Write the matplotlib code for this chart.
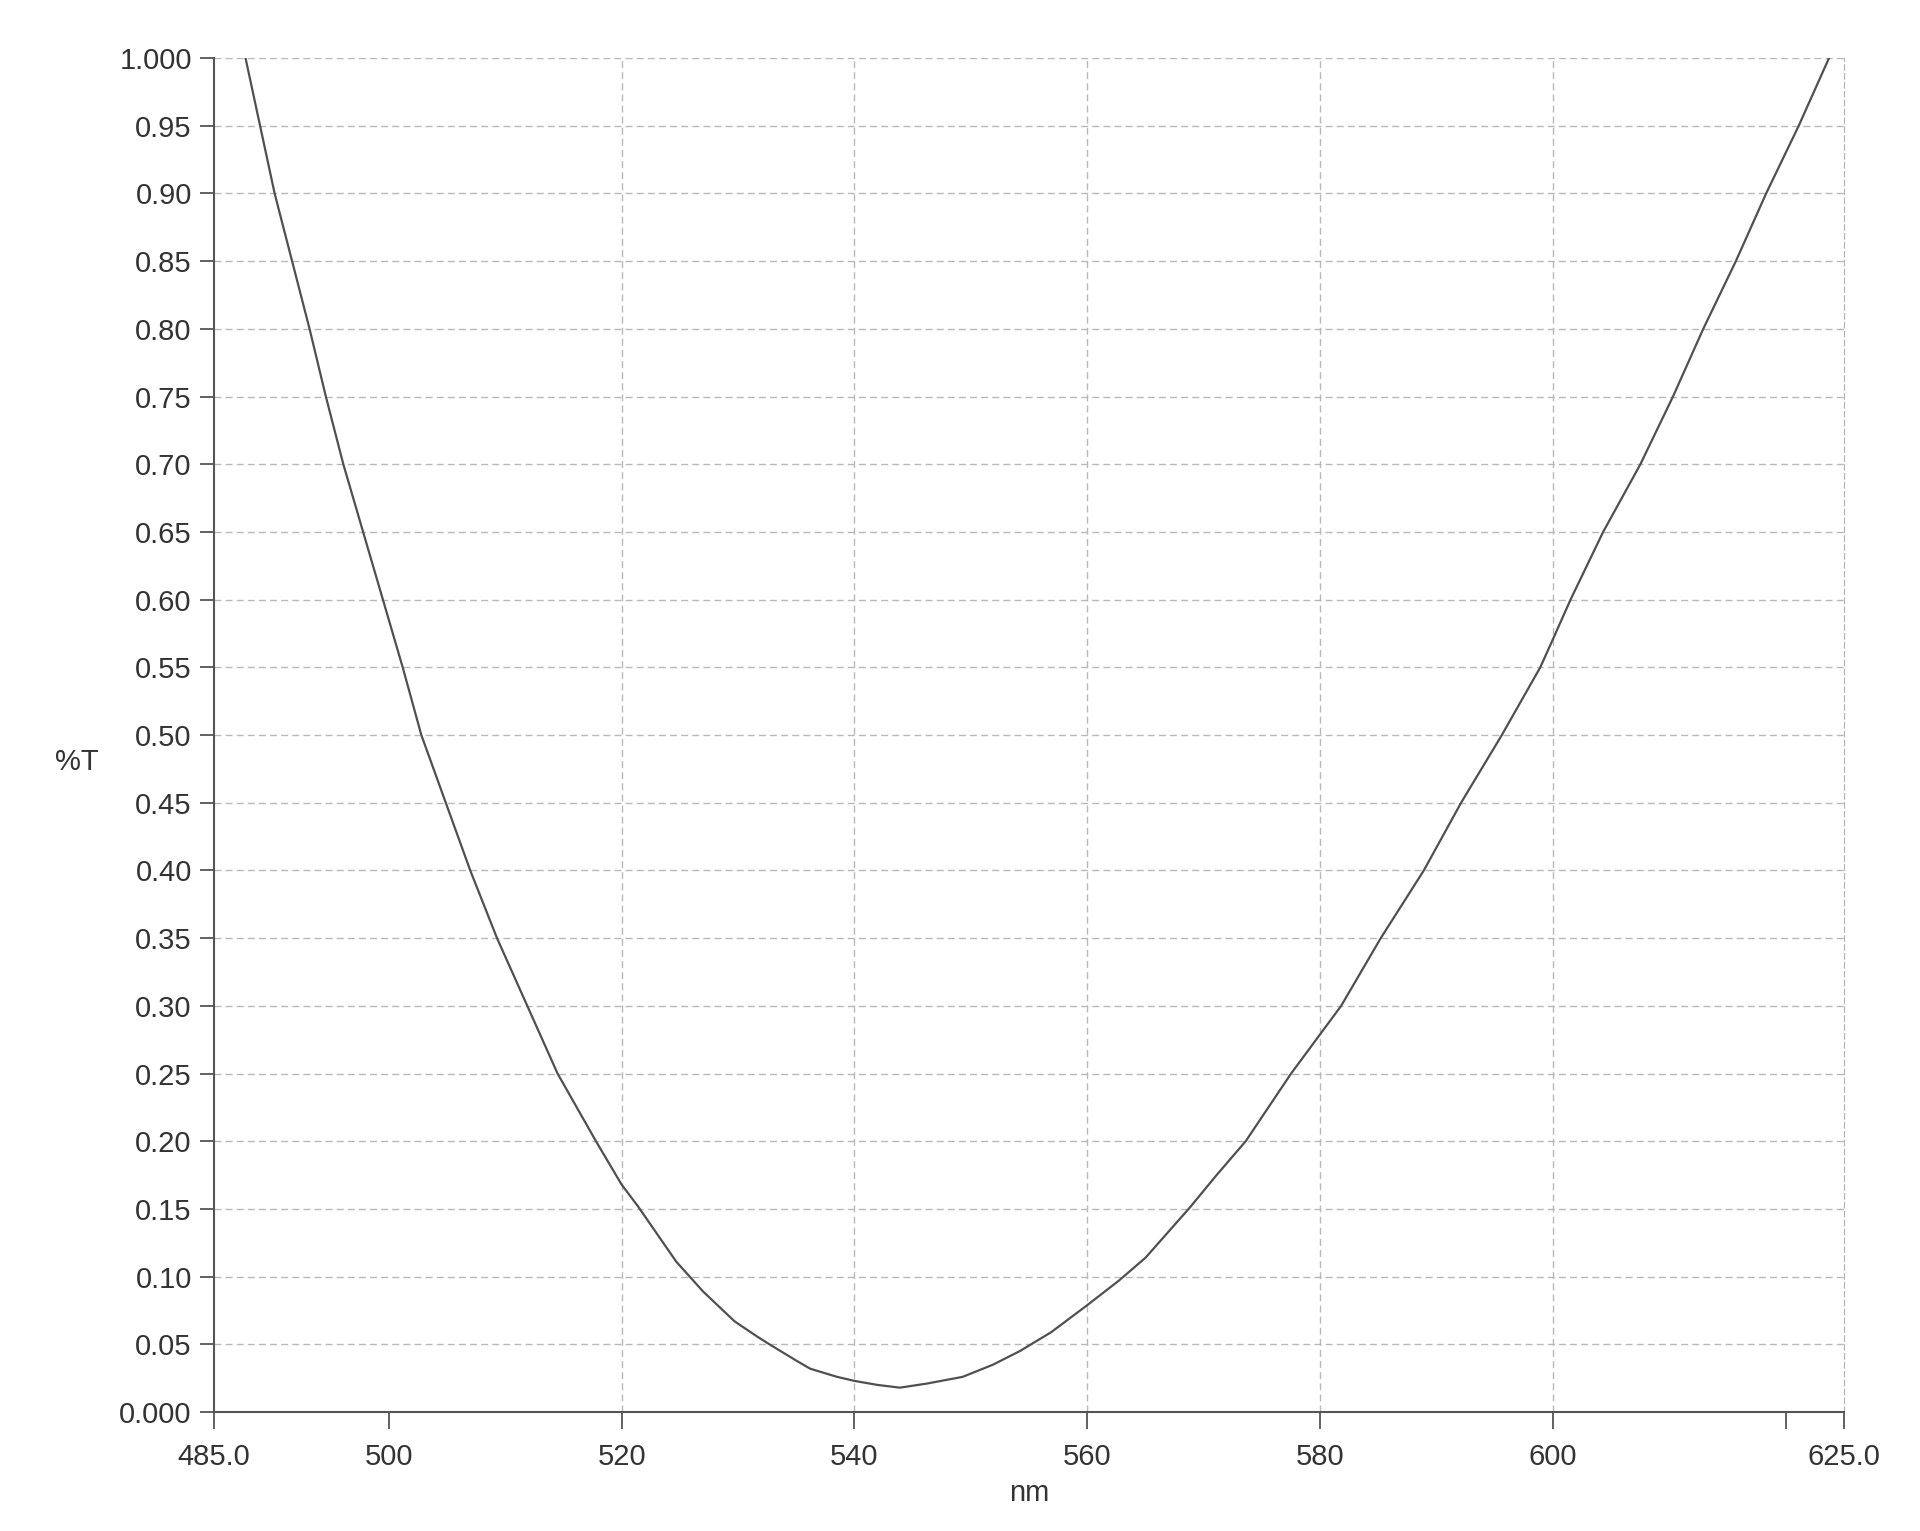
import numpy as np
import matplotlib
matplotlib.use("Agg")
import matplotlib.pyplot as plt

plt.rcParams['font.family'] = ['Liberation Sans', 'DejaVu Sans']

# transmission curve
nm = [487.7, 488.95, 490.2, 491.7, 493.2, 494.6, 496.1, 497.8, 499.5, 501.2,
      502.8, 504.9, 507.0, 509.3, 511.9, 514.5, 517.8, 520.0, 521.4, 524.7,
      527.0, 529.7, 531.6, 532.7, 535.0, 536.2, 538.5, 540.0, 542.0, 543.9,
      546.2, 549.3, 551.9, 554.2, 556.9, 560.0, 562.7, 565.0, 568.8, 571.1,
      573.6, 577.5, 581.8, 585.2, 588.9, 592.1, 595.6, 598.9, 600.0, 601.5,
      604.3, 607.5, 610.3, 612.9, 615.7, 618.3, 621.1, 623.7]
T = [1.00, 0.95, 0.90, 0.85, 0.80, 0.75, 0.70, 0.65, 0.60, 0.55,
     0.50, 0.45, 0.40, 0.35, 0.30, 0.25, 0.20, 0.168, 0.152, 0.111,
     0.089, 0.067, 0.056, 0.050, 0.038, 0.032, 0.026, 0.023, 0.020, 0.018,
     0.021, 0.026, 0.035, 0.045, 0.059, 0.079, 0.097, 0.114, 0.151, 0.175,
     0.20, 0.25, 0.30, 0.35, 0.40, 0.45, 0.50, 0.55, 0.571, 0.60,
     0.65, 0.70, 0.75, 0.80, 0.85, 0.90, 0.95, 1.00]

xticks = [485, 500, 520, 540, 560, 580, 600, 620, 625]
xticklabels = ['485.0', '500', '520', '540', '560', '580', '600', '', '625.0']
xgrid = [520, 540, 560, 580, 600]
yticks = np.round(np.arange(0, 1.0001, 0.05), 2)
yticklabels = ['0.000'] + ['%.2f' % v for v in yticks[1:-1]] + ['1.000']

fig = plt.figure(figsize=(19.2, 15.31), dpi=100)
ax = fig.add_axes([0.1115, 0.0777, 0.849, 0.8844])

ax.plot(nm, T, color='#505050', lw=1.6)

ax.set_xlim(485, 625)
ax.set_ylim(0, 1.0)

# dashed grid
for v in yticks[1:]:
    ax.axhline(v, color='#b8b8b8', lw=1.0, ls=(0, (5, 3)), zorder=0)
for v in xgrid:
    ax.axvline(v, color='#b8b8b8', lw=1.0, ls=(0, (5, 3)), zorder=0)

ax.spines['top'].set_visible(False)
ax.spines['right'].set_linestyle((0, (5, 3)))
ax.spines['right'].set_color('#b0b0b0')
ax.spines['left'].set_color('#555555')
ax.spines['bottom'].set_color('#555555')
ax.spines['left'].set_linewidth(1.5)
ax.spines['bottom'].set_linewidth(1.5)

ax.set_xticks(xticks)
ax.set_xticklabels(xticklabels)
ax.set_yticks(yticks)
ax.set_yticklabels(yticklabels)
ax.tick_params(axis='both', colors='#555555', labelcolor='#333333',
               labelsize=21, width=1.3)
ax.tick_params(axis='y', length=10, pad=6)
ax.tick_params(axis='x', length=12, pad=10)

ax.set_xlabel('nm', fontsize=21, color='#333333', labelpad=6)
ax.set_ylabel('%T', fontsize=21, color='#333333', rotation=0,
              ha='center', va='center')
ax.yaxis.set_label_coords(-0.084, 0.48)

fig.savefig('out.png', dpi=100, facecolor='white')
